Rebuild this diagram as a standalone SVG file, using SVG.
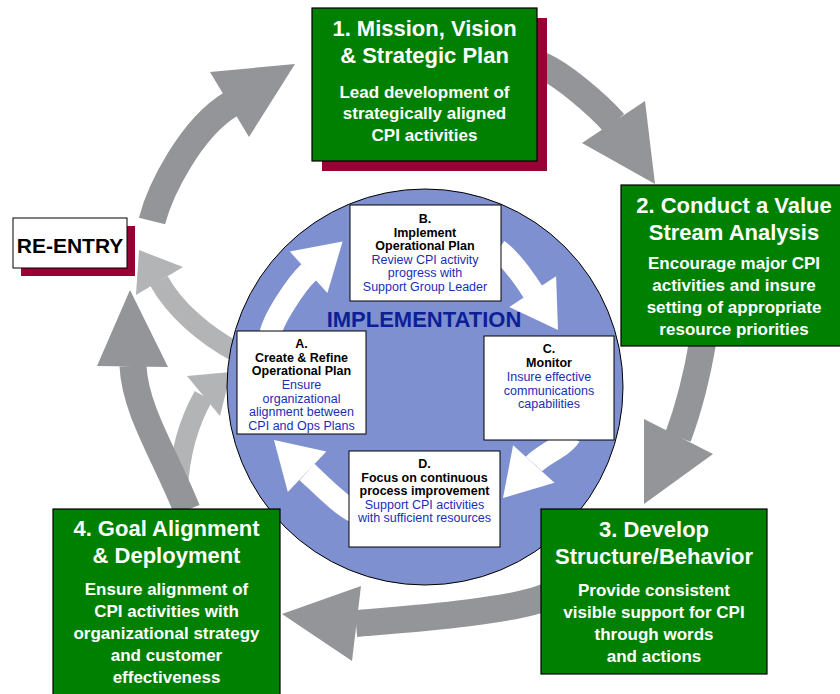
<svg xmlns="http://www.w3.org/2000/svg" width="840" height="694" viewBox="0 0 840 694">
<style>
.dk{fill:#939598}
.dkb{fill:none;stroke:#939598;stroke-width:27}
.lt{fill:#b3b4b6}
.ltb{fill:none;stroke:#b3b4b6;stroke-width:20}
.wh{fill:#fff}
.whb{fill:none;stroke:#fff;stroke-width:22}
.gbox{fill:#008000;stroke:#000;stroke-width:1.2}
.shadow{fill:#990033}
.ibox{fill:#fff;stroke:#000;stroke-width:1}
text{font-family:"Liberation Sans",Arial,sans-serif}
.t{font-size:22px;font-weight:bold;fill:#fff;text-anchor:middle}
.b{font-size:17px;font-weight:bold;fill:#fff;text-anchor:middle}
.ih{font-size:12.5px;font-weight:bold;fill:#000;text-anchor:middle}
.id{font-size:12.5px;fill:#1a2eb5;text-anchor:middle}
</style>
<rect width="840" height="694" fill="#fff"/>
<g id="outer-connectors">
  <path class="ltb" d="M178,488 C180,450 190,420 203.5,396"/>
  <polygon class="lt" points="187,376 231,372 220,416"/>
  <path class="ltb" d="M236,352 C205,335 175,310 159,281"/>
  <polygon class="lt" points="136,295 139,250 183,267"/>
  <path class="dkb" d="M152,221 C160,190 191,128 231,104"/>
  <polygon class="dk" points="210,72 295,64 249,137"/>
  <path class="dkb" d="M538,64 C561,72 600,107 614,123"/>
  <polygon class="dk" points="582,143 645,101 655,184"/>
  <path class="dkb" d="M703,340 C698,370 690,405 678,437"/>
  <polygon class="dk" points="644,419 713,454 644,504"/>
  <path class="dkb" d="M548,596 C515,612 396,620 356,623.5"/>
  <polygon class="dk" points="361,586 282,614 352,661"/>
  <path class="dkb" d="M187,510 C165,455 135,410 133,366"/>
  <polygon class="dk" points="97,366 130,290 168,367"/>
</g>
<g id="implementation">
  <circle cx="425" cy="387" r="198" fill="#7f90d0" stroke="#000" stroke-width="1"/>
  <text x="424" y="327" font-size="22" font-weight="bold" fill="#0d1f96" text-anchor="middle">IMPLEMENTATION</text>
</g>
<g id="inner-connectors">
  <path class="whb" d="M270,336 C272,320 297,283 309,272"/>
  <polygon class="wh" points="289.8,251.6 342.6,241.5 327.4,293"/>
  <path class="whb" d="M498,250 C512,260 524,278 533,292"/>
  <polygon class="wh" points="556.1,276.2 558,330 509.3,307"/>
  <path class="whb" d="M570,436 C564,446.4 542,455 534,464"/>
  <polygon class="wh" points="513.1,445.2 554.5,482.8 503,498"/>
  <path class="whb" d="M355,512 C341,506 318,482 307,472"/>
  <polygon class="wh" points="326.4,451.5 274,440 287.8,491.9"/>
</g>
<g id="nodeB">
  <rect class="ibox" x="350" y="205" width="151" height="96"/>
  <text class="ih" x="425" y="223">B.</text>
  <text class="ih" x="425" y="236.5">Implement</text>
  <text class="ih" x="425" y="250">Operational Plan</text>
  <text class="id" x="425" y="263.5">Review CPI activity</text>
  <text class="id" x="425" y="277">progress with</text>
  <text class="id" x="425" y="290.5">Support Group Leader</text>
</g>
<g id="nodeA">
  <rect class="ibox" x="237" y="331" width="129" height="103"/>
  <text class="ih" x="301.5" y="348">A.</text>
  <text class="ih" x="301.5" y="361.5">Create &amp; Refine</text>
  <text class="ih" x="301.5" y="375">Operational Plan</text>
  <text class="id" x="301.5" y="389">Ensure</text>
  <text class="id" x="301.5" y="402.5">organizational</text>
  <text class="id" x="301.5" y="416">alignment between</text>
  <text class="id" x="301.5" y="429.5">CPI and Ops Plans</text>
</g>
<g id="nodeC">
  <rect class="ibox" x="484" y="336" width="130" height="104"/>
  <text class="ih" x="549" y="353">C.</text>
  <text class="ih" x="549" y="367">Monitor</text>
  <text class="id" x="549" y="381">Insure effective</text>
  <text class="id" x="549" y="394.5">communications</text>
  <text class="id" x="549" y="407.5">capabilities</text>
</g>
<g id="nodeD">
  <rect class="ibox" x="349" y="451" width="151" height="96"/>
  <text class="ih" x="424.5" y="468">D.</text>
  <text class="ih" x="424.5" y="481.5">Focus on continuous</text>
  <text class="ih" x="424.5" y="495">process improvement</text>
  <text class="id" x="424.5" y="508.5">Support CPI activities</text>
  <text class="id" x="424.5" y="522">with sufficient resources</text>
</g>
<g id="node1">
  <rect class="shadow" x="322" y="18" width="225" height="153"/>
  <rect class="gbox" x="312" y="8" width="225" height="153"/>
  <text class="t" x="424.5" y="35.5">1. Mission, Vision</text>
  <text class="t" x="424.5" y="62.5">&amp; Strategic Plan</text>
  <text class="b" x="424.5" y="97.5">Lead development of</text>
  <text class="b" x="424.5" y="119">strategically aligned</text>
  <text class="b" x="424.5" y="141">CPI activities</text>
</g>
<g id="node2">
  <rect class="gbox" x="621" y="185" width="226" height="161"/>
  <text class="t" x="734" y="212.5">2. Conduct a Value</text>
  <text class="t" x="734" y="239.5">Stream Analysis</text>
  <text class="b" x="734" y="269">Encourage major CPI</text>
  <text class="b" x="734" y="291">activities and insure</text>
  <text class="b" x="734" y="313">setting of appropriate</text>
  <text class="b" x="734" y="334.5">resource priorities</text>
</g>
<g id="node3">
  <rect class="gbox" x="541" y="509" width="226" height="165"/>
  <text class="t" x="654" y="537">3. Develop</text>
  <text class="t" x="654" y="563.5">Structure/Behavior</text>
  <text class="b" x="654" y="595.5">Provide consistent</text>
  <text class="b" x="654" y="618">visible support for CPI</text>
  <text class="b" x="654" y="640">through words</text>
  <text class="b" x="654" y="662">and actions</text>
</g>
<g id="node4">
  <rect class="gbox" x="53" y="509" width="227" height="200"/>
  <text class="t" x="166.5" y="535.5">4. Goal Alignment</text>
  <text class="t" x="166.5" y="562.5">&amp; Deployment</text>
  <text class="b" x="166.5" y="594.5">Ensure alignment of</text>
  <text class="b" x="166.5" y="616.5">CPI activities with</text>
  <text class="b" x="166.5" y="639">organizational strategy</text>
  <text class="b" x="166.5" y="661">and customer</text>
  <text class="b" x="166.5" y="683">effectiveness</text>
</g>
<g id="reentry">
  <rect class="shadow" x="21" y="226" width="114" height="50"/>
  <rect x="13" y="218" width="114" height="50" fill="#fff" stroke="#000" stroke-width="1"/>
  <text x="70" y="253" font-size="21" font-weight="bold" fill="#000" text-anchor="middle">RE-ENTRY</text>
</g>
</svg>
